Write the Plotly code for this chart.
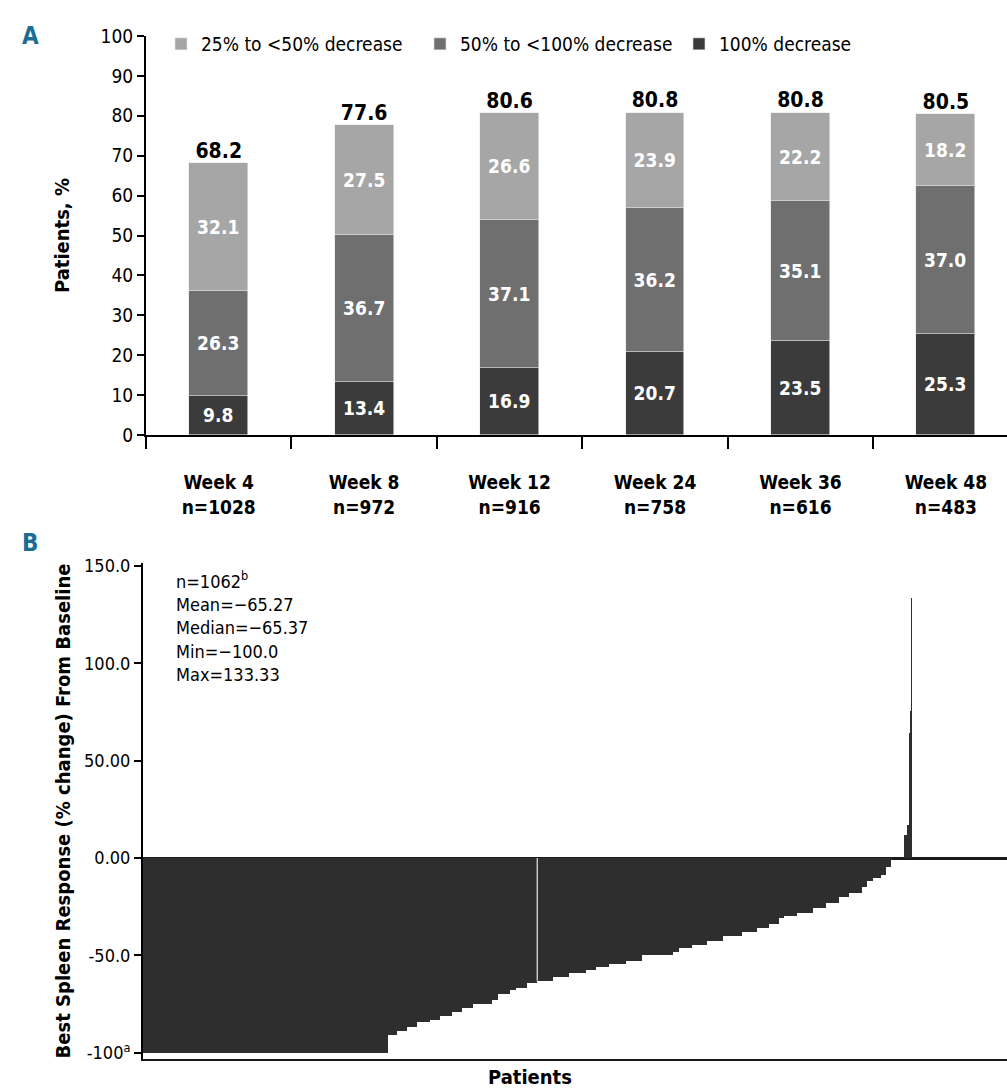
import numpy as np
import plotly.graph_objects as go

# ---------------- Panel A: spleen response categories by visit ----------------
weeks = ["Week 4", "Week 8", "Week 12", "Week 24", "Week 36", "Week 48"]
n_patients = [1028, 972, 916, 758, 616, 483]
pct_100 = [9.8, 13.4, 16.9, 20.7, 23.5, 25.3]
pct_50_100 = [26.3, 36.7, 37.1, 36.2, 35.1, 37.0]
pct_25_50 = [32.1, 27.5, 26.6, 23.9, 22.2, 18.2]
pct_total = [68.2, 77.6, 80.6, 80.8, 80.8, 80.5]

# ---------------- Panel B: best spleen response per patient (sorted) ----------
# run-length listing: value of the bar and number of patients at that value
wf_values = [-100.0, -91, -89, -87, -84, -83, -81, -79, -77, -75, -73, -70, -68,
             -66.67, -64, -63, -61, -59, -57.5, -56, -54.6, -53, -50, -48, -46,
             -44.6, -42.7, -40, -38, -36, -34, -31, -30, -28, -25.5, -23, -20,
             -18, -15, -12, -10, -8.7, -4.6, -1, 0, 11.7, 17, 20, 64, 75.5, 133.33]
wf_counts = [338, 12, 14, 14, 18, 14, 16, 14, 15, 26, 8, 17, 9,
             15, 14, 21, 23, 23, 14, 18, 23, 22, 44, 7, 18,
             21, 23, 25, 21, 17, 14, 7, 17, 22, 19, 18, 14,
             17, 7, 8, 12, 7, 7, 1, 18, 4, 2, 1, 1, 1, 1]
b_ticks = [150, 100, 50, 0, -50, -100]
b_ticktext = ["150.0", "100.0", "50.00", "0.00", "-50.0", "-100<sup>a</sup>"]
stats_lines = ["n=1062<sup>b</sup>", "Mean=\u221265.27", "Median=\u221265.37",
               "Min=\u2212100.0", "Max=133.33"]

response = np.repeat(wf_values, wf_counts)
patient = np.arange(1, len(response) + 1)

FONT = "Liberation Sans Narrow, DejaVu Sans Condensed, Arial Narrow, sans-serif"
C_LIGHT = "#a6a6a6"
C_MID = "#6f6f6f"
C_DARK = "#3b3b3b"
C_WF = "#2e2e2e"
C_PANEL = "#1b6d94"

W, H = 1007, 1092


def px_x(p):
    return p / W


def px_y(p):
    return 1 - p / H


fig = go.Figure()

cat_labels = [f"<b>{w}</b><br><b>n={n}</b>" for w, n in zip(weeks, n_patients)]

for name, vals, col in [("100% decrease", pct_100, C_DARK),
                        ("50% to <100% decrease", pct_50_100, C_MID),
                        ("25% to <50% decrease", pct_25_50, C_LIGHT)]:
    fig.add_trace(go.Bar(
        x=cat_labels, y=vals, name=name,
        marker=dict(color=col, line=dict(color="#e6e6e6", width=0.6)),
        text=[f"{v:.1f}" for v in vals], textposition="inside",
        insidetextanchor="middle",
        textfont=dict(color="white", size=19, family=FONT, weight="bold"),
        xaxis="x", yaxis="y", width=0.405,
    ))

fig.add_trace(go.Scatter(
    x=cat_labels, y=pct_total, mode="text",
    text=[f"{v:.1f}" for v in pct_total], textposition="top center",
    textfont=dict(color="black", size=21, family=FONT, weight="bold"),
    showlegend=False, cliponaxis=False, xaxis="x", yaxis="y", hoverinfo="skip",
))

fig.add_trace(go.Bar(
    x=patient, y=response, width=1.0,
    marker=dict(color=C_WF, line=dict(width=0)),
    showlegend=False, xaxis="x2", yaxis="y2",
))

# median patient marker
mid = len(response) // 2 + 13
fig.add_shape(type="line", xref="x2", yref="y2",
              x0=patient[mid], x1=patient[mid], y0=0, y1=response[mid],
              line=dict(color="#e8e8e8", width=1.2))

fig.update_layout(
    width=W, height=H, margin=dict(l=0, r=0, t=0, b=0, autoexpand=False),
    paper_bgcolor="white", plot_bgcolor="white",
    font=dict(family=FONT, size=18, color="black"),
    barmode="stack", bargap=0,
    showlegend=True,
    legend=dict(orientation="h", traceorder="reversed",
                x=px_x(161), y=px_y(44), xanchor="left", yanchor="middle",
                font=dict(size=19, family=FONT), entrywidth=214,
                itemwidth=30, bgcolor="rgba(0,0,0,0)"),
    xaxis=dict(domain=[px_x(146), 1], type="category", range=[-0.5, 5.42],
               showline=True, linecolor="black", linewidth=2,
               ticks="outside", tickson="boundaries", ticklen=12, tickwidth=2,
               tickcolor="black", tickfont=dict(size=19, family=FONT),
               ticklabelstandoff=29,
               anchor="y", showgrid=False, automargin=False),
    yaxis=dict(domain=[px_y(435), px_y(36)], range=[0, 100],
               tickvals=list(range(0, 101, 10)),
               showline=True, linecolor="black", linewidth=2,
               ticks="outside", ticklen=7, tickwidth=2, tickcolor="black",
               tickfont=dict(size=19, family=FONT), showgrid=False,
               zeroline=False, anchor="x", automargin=False,
               title=dict(text="<b>Patients, %</b>", font=dict(size=20, family=FONT),
                          standoff=26)),
    xaxis2=dict(domain=[px_x(143), 1], range=[0.5, 1193.8],
                showline=True, linecolor="#1a1a1a", linewidth=2,
                showticklabels=False, ticks="", showgrid=False, zeroline=False,
                anchor="y2", automargin=False),
    yaxis2=dict(domain=[px_y(1059), px_y(563)], range=[-103.2, 151.5],
                tickvals=b_ticks, ticktext=b_ticktext,
                showline=True, linecolor="black", linewidth=2,
                ticks="outside", ticklen=7, tickwidth=2, tickcolor="black",
                tickfont=dict(size=18, family=FONT), showgrid=False,
                zeroline=True, zerolinecolor="#1a1a1a", zerolinewidth=2.5,
                anchor="x2", automargin=False,
                title=dict(text="<b>Best Spleen Response (% change) From Baseline</b>",
                           font=dict(size=20, family=FONT), standoff=8)),
)

fig.add_annotation(text="<b>A</b>", x=px_x(20), y=px_y(20), xref="paper", yref="paper",
                   showarrow=False, font=dict(size=24, color=C_PANEL, family=FONT))
fig.add_annotation(text="<b>B</b>", x=px_x(20), y=px_y(543), xref="paper", yref="paper",
                   showarrow=False, font=dict(size=24, color=C_PANEL, family=FONT))
fig.add_annotation(text="<br>".join(stats_lines), x=px_x(174), y=px_y(566),
                   xref="paper", yref="paper", xanchor="left", yanchor="top",
                   align="left", showarrow=False,
                   font=dict(size=18, family=FONT), )
fig.add_annotation(text="<b>Patients</b>", x=px_x(530), y=px_y(1077), xref="paper",
                   yref="paper", showarrow=False, yanchor="middle",
                   font=dict(size=20, family=FONT))

fig.write_html("out.html")
